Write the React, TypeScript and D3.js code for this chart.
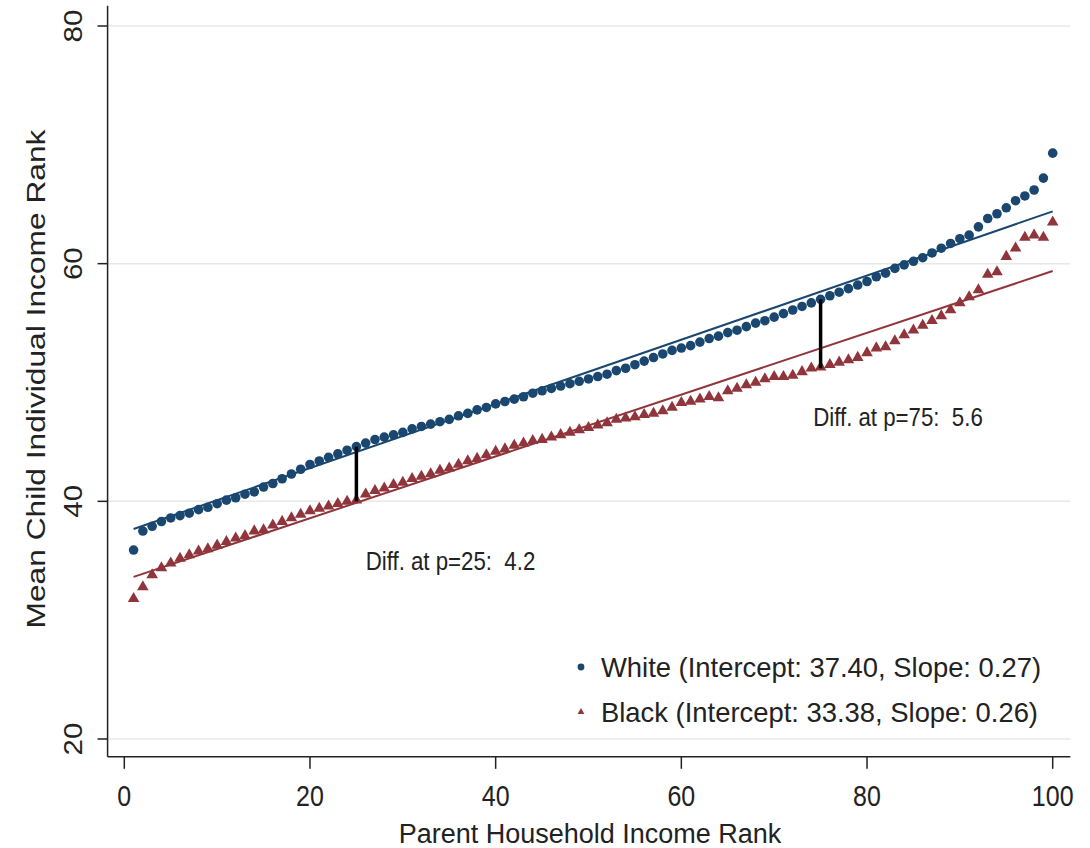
import React from "react";
import * as d3 from "d3";

// parent income rank (percentile 1..100)
const parentRank = d3.range(1, 101);

// mean child individual income rank
const whiteMean = [
  35.9, 37.5, 37.9, 38.3, 38.6, 38.8, 39.0, 39.3, 39.5, 39.8,
  40.1, 40.3, 40.6, 40.8, 41.2, 41.5, 41.9, 42.3, 42.7, 43.1,
  43.4, 43.7, 44.0, 44.3, 44.6, 44.9, 45.2, 45.4, 45.6, 45.8,
  46.1, 46.3, 46.5, 46.7, 46.9, 47.2, 47.4, 47.7, 47.9, 48.2,
  48.4, 48.6, 48.8, 49.1, 49.3, 49.5, 49.7, 49.9, 50.1, 50.3,
  50.5, 50.7, 51.0, 51.2, 51.5, 51.8, 52.1, 52.4, 52.7, 52.9,
  53.1, 53.4, 53.7, 53.9, 54.2, 54.4, 54.7, 55.0, 55.2, 55.5,
  55.8, 56.1, 56.4, 56.7, 57.0, 57.3, 57.6, 57.9, 58.2, 58.5,
  58.9, 59.2, 59.6, 59.9, 60.2, 60.5, 60.9, 61.3, 61.7, 62.1,
  62.4, 63.1, 63.8, 64.2, 64.7, 65.3, 65.7, 66.2, 67.2, 69.3,
];
const blackMean = [
  31.8, 32.8, 33.8, 34.4, 34.8, 35.2, 35.5, 35.8, 36.0, 36.3,
  36.6, 36.9, 37.1, 37.5, 37.6, 38.0, 38.3, 38.6, 38.9, 39.2,
  39.4, 39.6, 39.8, 40.0, 40.1, 40.6, 40.9, 41.1, 41.4, 41.6,
  41.9, 42.1, 42.3, 42.6, 42.8, 43.1, 43.4, 43.6, 43.9, 44.2,
  44.4, 44.7, 44.9, 45.1, 45.2, 45.4, 45.6, 45.8, 46.0, 46.2,
  46.4, 46.6, 46.9, 47.0, 47.1, 47.3, 47.4, 47.6, 47.9, 48.3,
  48.4, 48.6, 48.8, 48.7, 49.3, 49.5, 49.8, 50.0, 50.3, 50.5,
  50.5, 50.6, 50.9, 51.2, 51.3, 51.5, 51.7, 51.9, 52.1, 52.5,
  52.9, 53.0, 53.5, 54.0, 54.4, 54.8, 55.2, 55.6, 56.1, 56.7,
  57.2, 57.8, 59.1, 59.3, 60.6, 61.3, 62.2, 62.4, 62.2, 63.5,
];

const groups = ["White", "Black"];
const intercepts = [37.4, 33.38];
const slopes = [0.27, 0.26];

// gap bars at p=25 and p=75
const diffRanks = [25, 75];
const diffLow = [40.0, 51.2];
const diffHigh = [44.6, 57.0];
const diffText = ["Diff. at p=25:  4.2", "Diff. at p=75:  5.6"];

const xTicks = [0, 20, 40, 60, 80, 100];
const yTicks = [20, 40, 60, 80];

const navy = "#1a476f";
const maroon = "#90353b";
const font = "'Liberation Sans', Arial, sans-serif";

const App = () => {
  const width = 1090;
  const height = 848;

  const x = d3.scaleLinear().domain([0, 100]).range([124.3, 1052.7]);
  const y = d3.scaleLinear().domain([20, 80]).range([739, 26]);
  const xEdge = [-1.8, 101.9];
  const yEdge = [18.5, 81.7];

  const fitPath = (g: number) =>
    d3.line<number>()
      .x(p => x(p))
      .y(p => y(intercepts[g] + slopes[g] * p))([1, 100]);

  const tri = d3.symbol(d3.symbolTriangle, 58)();
  const triSmall = d3.symbol(d3.symbolTriangle, 20)();

  // where the two "Diff." notes sit, in data units
  const noteAt = [[26.0, 34.22], [74.2, 46.34]];
  const legendY = [677, 722];

  return (
    <svg width={width} height={height}
      style={{ position: "absolute", left: 0, top: 0, background: "#fff" }}
      fontFamily={font}>
      {/* grid */}
      {yTicks.map(t => (
        <line key={"g" + t} x1={x(xEdge[0])} x2={x(xEdge[1])} y1={y(t)} y2={y(t)}
          stroke="#e8e8e8" strokeWidth={1.5} />
      ))}

      {/* axes */}
      <line x1={x(xEdge[0])} x2={x(xEdge[0])} y1={y(yEdge[1])} y2={y(yEdge[0])} stroke="#222" strokeWidth={1.5} />
      <line x1={x(xEdge[0])} x2={x(xEdge[1])} y1={y(yEdge[0])} y2={y(yEdge[0])} stroke="#222" strokeWidth={1.5} />
      {yTicks.map(t => (
        <g key={"y" + t}>
          <line x1={x(xEdge[0]) - 10} x2={x(xEdge[0])} y1={y(t)} y2={y(t)} stroke="#222" strokeWidth={1.5} />
          <text transform={`translate(81.5, ${y(t)}) rotate(-90) scale(1.18, 1)`}
            textAnchor="middle" fontSize={25} fill="#222">{t}</text>
        </g>
      ))}
      {xTicks.map(t => (
        <g key={"x" + t}>
          <line x1={x(t)} x2={x(t)} y1={y(yEdge[0])} y2={y(yEdge[0]) + 12} stroke="#222" strokeWidth={1.5} />
          <text transform={`translate(${x(t)}, 806) scale(1, 1.15)`}
            textAnchor="middle" fontSize={25} fill="#222">{t}</text>
        </g>
      ))}
      <text x={590} y={843} textAnchor="middle" fontSize={27} fill="#222">Parent Household Income Rank</text>
      <text transform={`translate(45, 379) rotate(-90) scale(1.22, 1)`}
        textAnchor="middle" fontSize={26} fill="#222">Mean Child Individual Income Rank</text>

      {/* fitted lines */}
      <path d={fitPath(0) || ""} stroke={navy} strokeWidth={2} fill="none" />
      <path d={fitPath(1) || ""} stroke={maroon} strokeWidth={2} fill="none" />

      {/* points */}
      {parentRank.map((p, i) => (
        <path key={"b" + p} d={tri || ""} transform={`translate(${x(p)}, ${y(blackMean[i])})`} fill={maroon} />
      ))}
      {parentRank.map((p, i) => (
        <circle key={"w" + p} cx={x(p)} cy={y(whiteMean[i])} r={4.8} fill={navy} />
      ))}

      {/* gap bars + notes */}
      {diffRanks.map((p, i) => (
        <g key={"d" + p}>
          <line x1={x(p)} x2={x(p)} y1={y(diffLow[i])} y2={y(diffHigh[i])} stroke="#000" strokeWidth={3.5} />
          <text transform={`translate(${x(noteAt[i][0])}, ${y(noteAt[i][1])}) scale(0.89, 1)`}
            fontSize={25} fill="#222" style={{ whiteSpace: "pre" }}>{diffText[i]}</text>
        </g>
      ))}

      {/* legend */}
      {groups.map((g, i) => (
        <g key={g}>
          {i === 0
            ? <circle cx={581} cy={legendY[i] - 10} r={3.4} fill={navy} />
            : <path d={triSmall || ""} transform={`translate(581, ${legendY[i] - 10})`} fill={maroon} />}
          <text x={601} y={legendY[i]} fontSize={27.4} fill="#222">
            {`${g} (Intercept: ${intercepts[i].toFixed(2)}, Slope: ${slopes[i].toFixed(2)})`}
          </text>
        </g>
      ))}
    </svg>
  );
};

export default App;
